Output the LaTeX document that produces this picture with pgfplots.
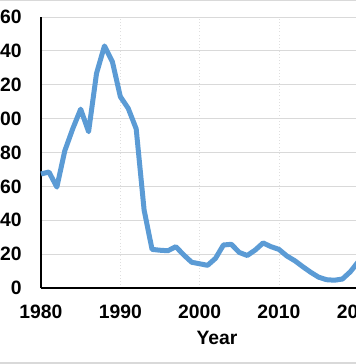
\documentclass[border=0pt]{standalone}
\usepackage{pgfplots}
\pgfplotsset{compat=1.18}
\usepackage{fontspec}
\setmainfont{Liberation Sans}
\definecolor{lineblue}{HTML}{5B9BD5}
\definecolor{gridgray}{HTML}{D9D9D9}
\begin{document}
\begin{tikzpicture}
\useasboundingbox (0,0) rectangle (267pt,-273pt);
\clip (0,0) rectangle (267pt,-273pt);
\begin{pgfinterruptboundingbox}
\begin{axis}[
  at={(30.75pt,-216pt)}, anchor=south west,
  scale only axis,
  width=267.7pt, height=203.25pt,
  xmin=1980, xmax=2025, ymin=0, ymax=160,
  xtick={1980,1990,2000,2010,2020},
  ytick={0,20,40,60,80,100,120,140,160},
  xticklabels={1980,1990,2000,2010,2020},
  major tick length=0pt,
  axis x line*=bottom, axis y line*=left,
  axis line style={black, line width=1.5pt},
  ymajorgrids, xmajorgrids,
  y grid style={gridgray, line width=0.75pt},
  x grid style={gray!25, dotted, line width=0.6pt},
  tick label style={font=\fontsize{14.5}{16}\selectfont\bfseries},
  /pgf/number format/assume math mode=true,
  /pgf/number format/1000 sep={},
  xticklabel style={yshift=-9pt},
  yticklabel style={xshift=-11pt},
  xlabel={Year},
  xlabel style={font=\fontsize{14.5}{16}\selectfont\bfseries, at={(rel axis cs:0.493,0)}, anchor=north, yshift=-28.5pt},
  clip=false,
]
\addplot[lineblue, line width=3.75pt, line join=round] coordinates {
(1980,67.3)(1981,68.5)(1982,59.6)(1983,81)(1984,94)(1985,105.6)(1986,92.3)
(1987,126.7)(1988,142.9)(1989,133.6)(1990,113)(1991,106)(1992,94)
(1993,46)(1994,22.8)(1995,22.3)(1996,22)(1997,24.4)(1998,19.5)(1999,15.2)
(2000,14.3)(2001,13.4)(2002,17.5)(2003,25.4)(2004,25.8)(2005,21)(2006,19.2)
(2007,22.4)(2008,26.6)(2009,24.4)(2010,22.8)(2011,18.9)(2012,16.1)(2013,12.6)
(2014,9.3)(2015,6.4)(2016,4.9)(2017,4.6)(2018,5.3)(2019,9.6)(2020,15.5)(2021,18)
};
\end{axis}
\fill[gridgray] (0,0) rectangle (267pt,-0.75pt);
\fill[gridgray] (0,-271.5pt) rectangle (267pt,-273pt);
\end{pgfinterruptboundingbox}
\end{tikzpicture}
\end{document}
